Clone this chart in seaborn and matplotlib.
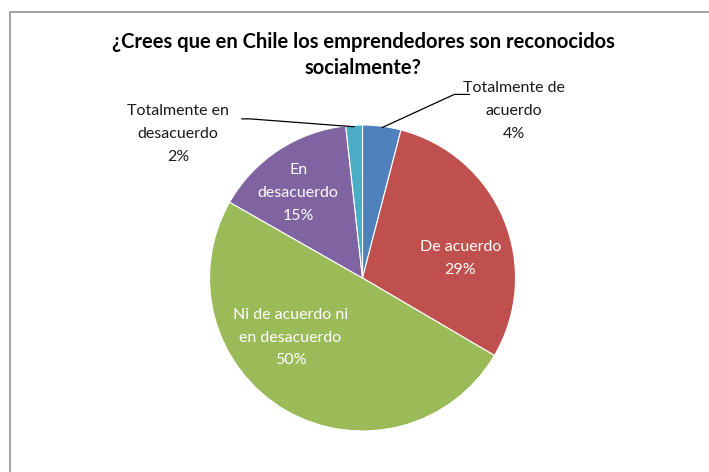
import numpy as np
import matplotlib
matplotlib.use("Agg")
import matplotlib.pyplot as plt
import seaborn as sns
from matplotlib.lines import Line2D

categories = ["Totalmente de\nacuerdo", "De acuerdo", "Ni de acuerdo ni\nen desacuerdo",
              "En\ndesacuerdo", "Totalmente en\ndesacuerdo"]
shares = [4.05, 29.4, 49.8, 15.0, 1.75]
colors = ["#4F81BD", "#C0504D", "#9BBB59", "#8064A2", "#4BACC6"]
title = "¿Crees que en Chile los emprendedores son reconocidos\nsocialmente?"

sns.set_theme(style="white")
plt.rcParams['font.family'] = ['Lato', 'DejaVu Sans']

fig = plt.figure(figsize=(7.09, 4.72), dpi=100)
ax = fig.add_axes([0, 0, 1, 1])

wedges, _ = ax.pie(shares, colors=colors, startangle=90, counterclock=False,
                   radius=1, wedgeprops=dict(edgecolor="white", linewidth=0.8))

# 1 data unit = 153 px, pie centre at (362.5, 278) px from top-left
ax.set_xlim(-362.5 / 153, (709 - 362.5) / 153)
ax.set_ylim(-194 / 153, 278 / 153)
ax.set_aspect("equal")
ax.axis("off")

labels = [f"{c}\n{v:.0f}%" for c, v in zip(categories, shares)]
fs = 11.5
ls = 1.8

# inside labels (white)
inside = {1: (0.64, 0.13), 2: (-0.47, -0.39), 3: (-0.42, 0.555)}
for i, (x, y) in inside.items():
    ax.text(x, y, labels[i], ha="center", va="center", color="white",
            fontsize=fs, linespacing=ls)

# outside labels with leader lines
def mid_point(w, r=0.99):
    a = np.deg2rad((w.theta1 + w.theta2) / 2)
    return r * np.cos(a), r * np.sin(a)

x0, y0 = mid_point(wedges[0])
ax.plot([x0, 0.60, 0.70], [y0, 1.20, 1.20], color="black", lw=0.9)
ax.text(0.99, 1.09, labels[0], ha="center", va="center", color="#1a1a1a",
        fontsize=fs, linespacing=ls)

x4, y4 = mid_point(wedges[4])
ax.plot([x4, -0.735, -0.79], [y4, 1.04, 1.04], color="black", lw=0.9)
ax.text(-1.205, 0.94, labels[4], ha="center", va="center", color="#1a1a1a",
        fontsize=fs, linespacing=ls)

fig.text(363 / 709, 1 - 55 / 472, title, ha="center", va="center",
         fontsize=14.5, fontweight="bold", color="black", linespacing=1.35)

# chart area frame (only top and left edges fall inside the picture)
fig.add_artist(Line2D([10 / 709, 10 / 709], [0, 1 - 12 / 472], color="#9A9A9A", lw=1.3))
fig.add_artist(Line2D([10 / 709, 1], [1 - 12 / 472, 1 - 12 / 472], color="#9A9A9A", lw=1.3))

fig.savefig("out.png", dpi=100)
